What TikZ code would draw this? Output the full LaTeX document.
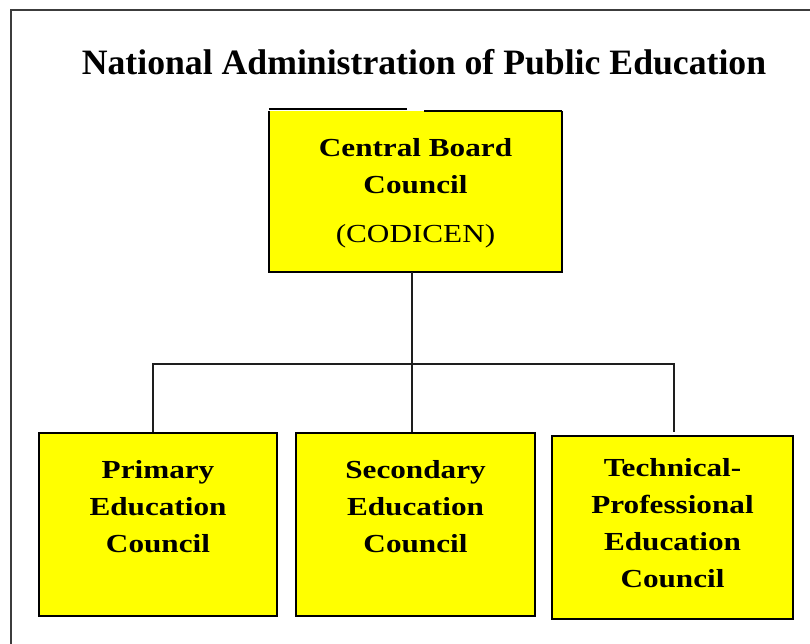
\documentclass[tikz,border=0pt]{standalone}
\usepackage{fontspec}
\setmainfont{Liberation Serif}
\newfontfamily\boxfont[FakeStretch=1.2]{Liberation Serif}
\begin{document}
\begin{tikzpicture}[x=1pt,y=-1pt,
  box/.style={fill={rgb,255:red,255;green,255;blue,0}, draw=black, line width=1.5pt, inner sep=0pt},
  boxtext/.style={align=center, font=\boxfont\fontsize{26}{37}\selectfont\bfseries, inner sep=0pt},
  conn/.style={draw={rgb,255:red,30;green,30;blue,30}, line width=1.4pt},
  frameline/.style={draw={rgb,255:red,60;green,60;blue,60}, line width=2pt}]
\useasboundingbox (0,0) rectangle (810,644);
\begin{scope}
\clip (0,0) rectangle (810,644);
\draw[frameline] (11,660) -- (11,10) -- (830,10);
\end{scope}
\node[font=\fontsize{35.7}{40}\selectfont\bfseries, inner sep=0pt] (title) at (424,62) {National Administration of Public Education};
% central box
\node[fill={rgb,255:red,255;green,255;blue,0}, minimum width=293pt, minimum height=161pt, inner sep=0pt] (central) at (415.5,191.5) {};
\draw[black, line width=1.5pt] (central.north west) -- (central.south west) -- (central.south east) -- (central.north east);
\draw[black, line width=1.5pt] ([yshift=2pt]central.north west) -- ++(138,0);
\draw[black, line width=1.5pt] ([xshift=-138pt]central.north east) -- (central.north east);
\node[boxtext, anchor=north] (centraltext) at ([yshift=-27pt]central.north) {Central Board\\Council\\[12pt]{\mdseries (CODICEN)}};
% bottom boxes
\node[box, minimum width=238pt, minimum height=183pt] (primary) at (158,524.5) {};
\node[box, minimum width=239pt, minimum height=183pt] (secondary) at (415.5,524.5) {};
\node[box, minimum width=241pt, minimum height=183pt] (technical) at (672.5,527.5) {};
\node[boxtext, anchor=north] (primarytext) at ([yshift=-28pt]primary.north) {Primary\\Education\\Council};
\node[boxtext, anchor=north] (secondarytext) at ([yshift=-28pt]secondary.north) {Secondary\\Education\\Council};
\node[boxtext, anchor=north] (technicaltext) at ([yshift=-23pt]technical.north) {Technical-\\Professional\\Education\\Council};
% connectors
\coordinate (hub) at (412,364);
\draw[conn] (central.south -| hub) -- (secondary.north -| hub);
\draw[conn] ([xshift=-5pt]primary.north) |- (hub) -| ([xshift=1.5pt,yshift=3pt]technical.north);
\end{tikzpicture}
\end{document}
